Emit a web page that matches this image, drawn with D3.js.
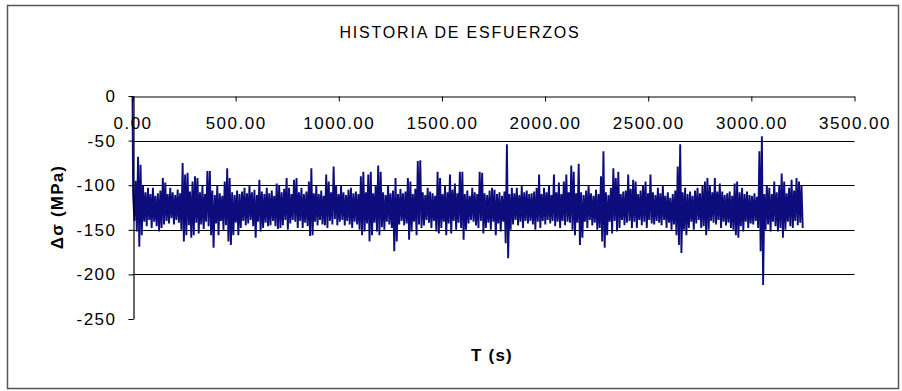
<!DOCTYPE html>
<html>
<head>
<meta charset="utf-8">
<script src="https://cdn.jsdelivr.net/npm/d3@7"></script>
<style>
  body { margin: 0; background: #fff; }
  svg { display: block; }
</style>
</head>
<body>
<div id="chart"></div>
<script>
var startValue = 0;
var stepSeconds = 12;

var peaks = [
  -110, -95, -68, -77, -101, -108, -103, -110, -103, -112,
  -109, -106, -92, -97, -110, -103, -108, -111, -105, -109,
  -75, -88, -86, -107, -96, -90, -92, -108, -101, -110,
  -84, -84, -106, -111, -101, -109, -112, -96, -81, -92,
  -108, -111, -106, -110, -107, -103, -109, -100, -108, -105,
  -111, -94, -107, -110, -103, -109, -106, -112, -98, -100,
  -108, -104, -92, -103, -110, -94, -92, -108, -103, -110,
  -107, -96, -81, -109, -101, -110, -106, -112, -88, -96,
  -108, -79, -100, -110, -101, -108, -111, -105, -103, -109,
  -107, -110, -90, -85, -108, -88, -85, -109, -100, -78,
  -85, -108, -111, -100, -109, -106, -92, -110, -104, -109,
  -107, -92, -96, -110, -104, -73, -72, -108, -111, -103,
  -107, -109, -112, -85, -92, -110, -101, -108, -88, -105,
  -98, -109, -85, -85, -110, -106, -112, -103, -108, -110,
  -85, -86, -109, -111, -106, -103, -105, -110, -108, -112,
  -107, -54, -110, -103, -109, -103, -111, -101, -108, -106,
  -110, -109, -107, -103, -88, -110, -103, -108, -100, -111,
  -88, -108, -97, -110, -96, -88, -108, -78, -85, -109,
  -76, -108, -111, -106, -100, -109, -112, -105, -110, -90,
  -62, -108, -111, -103, -81, -92, -85, -110, -107, -106,
  -88, -104, -94, -96, -110, -106, -100, -96, -109, -88,
  -108, -111, -103, -109, -101, -112, -108, -114, -110, -106,
  -79, -54, -108, -103, -110, -107, -112, -106, -103, -109,
  -101, -96, -92, -100, -108, -92, -107, -98, -107, -111,
  -109, -107, -112, -98, -96, -108, -103, -110, -107, -111,
  -112, -109, -113, -62, -45, -110, -100, -103, -110, -96,
  -108, -101, -87, -96, -109, -103, -94, -106, -92, -96,
  -100
];

var valleys = [
  -140, -152, -169, -156, -141, -146, -139, -148, -141, -146,
  -152, -148, -144, -140, -143, -137, -144, -139, -142, -150,
  -163, -156, -145, -159, -156, -142, -154, -144, -149, -141,
  -146, -156, -170, -143, -156, -140, -150, -145, -163, -167,
  -156, -142, -156, -148, -140, -145, -143, -139, -146, -159,
  -141, -152, -148, -142, -146, -145, -140, -146, -149, -148,
  -145, -139, -150, -143, -139, -141, -148, -140, -148, -142,
  -146, -157, -156, -141, -145, -139, -144, -145, -148, -140,
  -144, -138, -145, -141, -139, -145, -140, -144, -148, -141,
  -144, -150, -156, -152, -143, -163, -156, -142, -152, -156,
  -147, -150, -141, -144, -148, -174, -163, -144, -140, -145,
  -143, -161, -152, -141, -156, -144, -148, -145, -139, -142,
  -148, -140, -152, -154, -148, -141, -156, -143, -154, -140,
  -150, -142, -148, -161, -150, -143, -139, -141, -145, -148,
  -140, -154, -148, -142, -150, -141, -156, -143, -152, -141,
  -165, -182, -150, -144, -139, -145, -141, -148, -140, -143,
  -140, -144, -150, -141, -148, -140, -144, -139, -143, -140,
  -146, -141, -148, -140, -145, -141, -142, -150, -156, -142,
  -167, -159, -141, -148, -139, -145, -142, -150, -148, -163,
  -170, -156, -141, -154, -140, -152, -148, -139, -145, -142,
  -140, -148, -141, -148, -139, -145, -141, -148, -139, -143,
  -144, -140, -142, -145, -139, -148, -142, -150, -144, -156,
  -167, -176, -150, -156, -148, -141, -150, -143, -139, -148,
  -146, -156, -150, -140, -142, -144, -139, -148, -141, -145,
  -142, -148, -150, -156, -159, -146, -152, -141, -148, -143,
  -144, -140, -148, -174, -212, -150, -144, -152, -141, -146,
  -152, -148, -159, -150, -141, -146, -148, -140, -145, -142,
  -148
];

var xTicks = [0, 500, 1000, 1500, 2000, 2500, 3000, 3500];
var yTicks = [0, -50, -100, -150, -200, -250];
var gridValues = [-50, -100, -150, -200];

var chartTitle = "HISTORIA DE ESFUERZOS";
var xTitle = "T (s)";
var yTitle = "\u0394\u03c3 (MPa)";

// build the line points: start value, then peak / valley alternating
var series = [{t: 0, v: startValue}];
peaks.forEach(function(p, i) {
    series.push({t: i * stepSeconds + 3, v: p});
    series.push({t: i * stepSeconds + 9, v: valleys[i]});
});

var svg = d3.select("#chart")
    .append("svg")
    .attr("width", 902)
    .attr("height", 391);

var font = "'Liberation Sans', Arial, sans-serif";

// chart area border
svg.append("rect")
    .attr("x", 7.5)
    .attr("y", 5.5)
    .attr("width", 891)
    .attr("height", 383)
    .attr("fill", "#fff")
    .attr("stroke", "#555")
    .attr("stroke-width", 1.5);

var x = d3.scaleLinear()
    .domain([0, 3500])
    .range([132.5, 854.5]);

var y = d3.scaleLinear()
    .domain([0, -250])
    .range([96, 319]);

// gridlines
svg.append("g")
    .selectAll("line")
    .data(gridValues)
    .enter().append("line")
    .attr("x1", x(0))
    .attr("x2", x(3500))
    .attr("y1", function(d) { return Math.round(y(d)) + 0.5; })
    .attr("y2", function(d) { return Math.round(y(d)) + 0.5; })
    .attr("stroke", "#000")
    .attr("stroke-width", 1.2);

// the stress history
var line = d3.line()
    .x(function(d) { return x(d.t); })
    .y(function(d) { return y(d.v); });

svg.append("path")
    .datum(series)
    .attr("d", line)
    .attr("fill", "none")
    .attr("stroke", "#0c0c7c")
    .attr("stroke-width", 1.9)
    .attr("stroke-linejoin", "bevel");

// X axis, sitting on the zero line, labels hang below
var xAxis = svg.append("g")
    .attr("transform", "translate(0," + (Math.round(y(0)) + 0.5) + ")")
    .call(d3.axisBottom(x)
        .tickValues(xTicks)
        .tickSize(5)
        .tickSizeOuter(0)
        .tickFormat(d3.format(".2f")));

xAxis.select(".domain").attr("stroke", "#000").attr("stroke-width", 1.2);
xAxis.selectAll(".tick line").attr("stroke", "#000");
xAxis.selectAll("text")
    .attr("y", 27)
    .attr("dy", "0.35em")
    .attr("fill", "#000")
    .style("font-family", font)
    .style("font-size", "17px")
    .style("letter-spacing", "1.5px");

// Y axis
var yAxis = svg.append("g")
    .attr("transform", "translate(" + (Math.round(x(0)) + 0.5) + ",0)")
    .call(d3.axisLeft(y)
        .tickValues(yTicks)
        .tickSize(5)
        .tickSizeOuter(0)
        .tickPadding(12)
        .tickFormat(function(d) { return String(d); }));

yAxis.select(".domain").attr("stroke", "#000").attr("stroke-width", 1.2);
yAxis.selectAll(".tick line").attr("stroke", "#000");
yAxis.selectAll("text")
    .attr("fill", "#000")
    .style("font-family", font)
    .style("font-size", "17px")
    .style("letter-spacing", "1.5px");

// titles
svg.append("text")
    .attr("x", 460)
    .attr("y", 38)
    .attr("text-anchor", "middle")
    .style("font-family", font)
    .style("font-size", "16px")
    .style("letter-spacing", "1.8px")
    .text(chartTitle);

svg.append("text")
    .attr("x", 492)
    .attr("y", 361)
    .attr("text-anchor", "middle")
    .attr("font-weight", "bold")
    .style("font-family", font)
    .style("font-size", "17px")
    .style("letter-spacing", "1.2px")
    .text(xTitle);

svg.append("text")
    .attr("transform", "translate(63,207) rotate(-90)")
    .attr("text-anchor", "middle")
    .attr("font-weight", "bold")
    .style("font-family", font)
    .style("font-size", "17px")
    .style("letter-spacing", "1.2px")
    .text(yTitle);
</script>
</body>
</html>
